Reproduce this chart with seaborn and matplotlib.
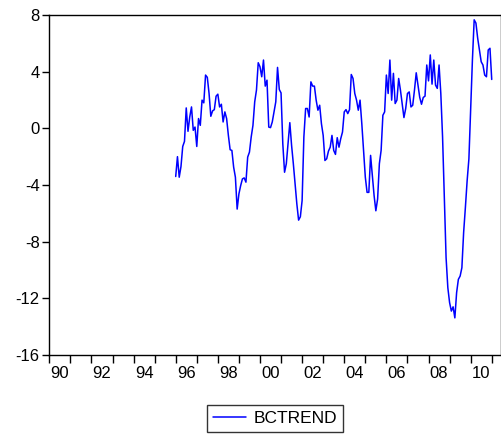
import numpy as np
import pandas as pd
import matplotlib
matplotlib.use("Agg")
import matplotlib.pyplot as plt
import seaborn as sns

# monthly series, 1996:01 - 2011:01
start_year = 1996
bctrend = [
    -3.40, -2.00, -3.45, -2.70, -1.28, -0.92, 1.44, -0.21, 0.80, 1.51, -0.14, 0.09,   # 1996
    -1.28, 0.69, 0.21, 1.99, 1.80, 3.76, 3.60, 2.46, 0.85, 1.23, 1.32, 2.27,          # 1997
    2.41, 1.51, 1.70, 0.45, 1.16, 0.69, -0.50, -1.51, -1.56, -2.74, -3.45, -5.70,     # 1998
    -4.63, -4.04, -3.57, -3.50, -3.80, -2.03, -1.68, -0.61, 0.21, 1.87, 2.70, 4.63,   # 1999
    4.35, 3.64, 4.82, 2.98, 3.40, 0.09, 0.05, 0.45, 1.16, 1.87, 4.30, 2.74,           # 2000
    2.50, -1.09, -3.10, -2.50, -1.09, 0.40, -1.20, -2.50, -3.92, -5.34, -6.48, -6.24, # 2001
    -5.10, -0.61, 1.40, 1.40, 0.80, 3.28, 2.98, 2.98, 1.99, 1.28, 1.63, 0.33,         # 2002
    -0.50, -2.27, -2.15, -1.61, -1.33, -0.50, -1.56, -1.84, -0.66, -1.33, -0.73, -0.26,  # 2003
    1.16, 1.32, 1.04, 1.32, 3.80, 3.52, 2.46, 1.99, 1.28, 1.99, 0.33, -1.56,          # 2004
    -3.45, -4.52, -4.52, -1.91, -3.33, -4.75, -5.82, -4.99, -2.50, -1.56, 0.92, 1.16, # 2005
    3.76, 2.46, 4.82, 1.99, 3.88, 1.75, 1.99, 3.52, 2.70, 1.75, 0.76, 1.40,           # 2006
    2.46, 2.57, 1.51, 1.63, 2.70, 3.92, 3.05, 2.18, 1.70, 2.18, 2.27, 4.47,           # 2007
    3.35, 5.18, 3.12, 4.82, 3.05, 2.82, 4.47, 2.46, -0.61, -4.87, -9.13, -11.25,      # 2008
    -12.30, -12.90, -12.60, -13.38, -11.60, -10.66, -10.43, -9.84, -7.35, -5.58, -3.69, -2.15,  # 2009
    1.28, 4.82, 7.66, 7.43, 6.36, 5.53, 4.70, 4.47, 3.76, 3.64, 5.53, 5.65,           # 2010
    3.45,                                                                             # 2011
]
year_ticks = list(range(1990, 2012))
label_years = list(range(1990, 2011, 2))
y_ticks = [-16, -12, -8, -4, 0, 4, 8]

dates = pd.date_range(f"{start_year}-01-01", periods=len(bctrend), freq="MS")
df = pd.DataFrame({"date": dates, "BCTREND": bctrend})
df["t"] = df["date"].dt.year + (df["date"].dt.month - 1) / 12.0

sns.set_theme(style="ticks")
plt.rcParams["font.family"] = ["Liberation Sans", "DejaVu Sans"]

fig = plt.figure(figsize=(5.02, 4.36), dpi=100)
ax = fig.add_axes([0.0982, 0.1858, 0.8998, 0.7798])

sns.lineplot(data=df, x="t", y="BCTREND", color="#0000FF", linewidth=1.1,
             label="BCTREND", ax=ax)

ax.set_xlim(1990, 2011.44)
ax.set_ylim(-16, 8)

ax.set_xticks(year_ticks)
ax.set_xticklabels([""] * len(year_ticks))
ax.set_xticks([y + 0.5 for y in label_years], minor=True)
ax.set_xticklabels([f"{y % 100:02d}" for y in label_years], minor=True)
ax.tick_params(axis="x", which="major", length=6, width=1, color="black", direction="out")
ax.tick_params(axis="x", which="minor", length=0, pad=8, labelsize=12, labelcolor="black")

ax.set_yticks(y_ticks)
ax.set_yticklabels([str(v) for v in y_ticks])
ax.tick_params(axis="y", length=5, width=1, color="black", pad=2, labelsize=12,
               labelcolor="black")

ax.set_xlabel("")
ax.set_ylabel("")
for s in ax.spines.values():
    s.set_color("black")
    s.set_linewidth(1.0)
    s.set_visible(True)

leg = ax.legend(loc="upper center", bbox_to_anchor=(0.5, -0.147), frameon=True,
                fancybox=False, shadow=False, fontsize=12.5, handlelength=1.9,
                handletextpad=0.4, borderpad=0.35, borderaxespad=0)
leg.get_frame().set_edgecolor("black")
leg.get_frame().set_linewidth(1.0)
for t in leg.get_texts():
    t.set_color("black")

fig.savefig("out.png", dpi=100, facecolor="white")
